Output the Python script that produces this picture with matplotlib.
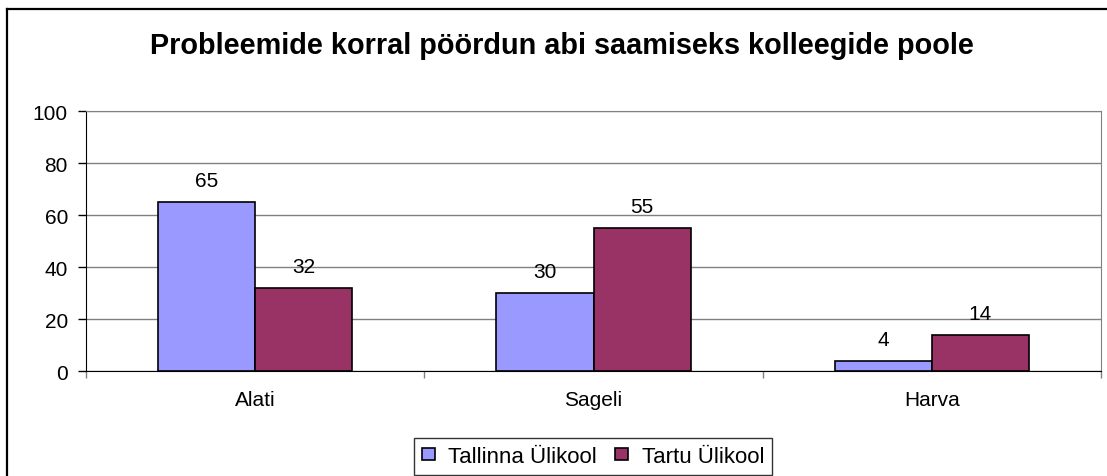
import numpy as np
import matplotlib.pyplot as plt
from matplotlib.lines import Line2D

# data
categories = ["Alati", "Sageli", "Harva"]
tallinn = [65, 30, 4]
tartu = [32, 55, 14]
series_names = ["Tallinna Ülikool", "Tartu Ülikool"]
yticks = [0, 20, 40, 60, 80, 100]

plt.rcParams["font.family"] = ["Liberation Sans", "DejaVu Sans"]

fig = plt.figure(figsize=(11.07, 4.77), dpi=100)
ax = fig.add_axes([86 / 1107, 1 - 372 / 477, 1015 / 1107, 260 / 477])

x = np.arange(len(categories))
w = 0.287
b1 = ax.bar(x - w / 2, tallinn, w, color="#9999FF", edgecolor="black", linewidth=1.2,
            label=series_names[0], zorder=3)
b2 = ax.bar(x + w / 2, tartu, w, color="#993366", edgecolor="black", linewidth=1.2,
            label=series_names[1], zorder=3)

# value labels above the bars
for bars, vals in ((b1, tallinn), (b2, tartu)):
    for r, v in zip(bars, vals):
        ax.annotate(str(v), (r.get_x() + r.get_width() / 2, v), xytext=(0, 11.5),
                    textcoords="offset points", ha="center", va="baseline", fontsize=15)

ax.set_xlim(-0.5, len(categories) - 0.5)
ax.set_ylim(0, 100)
ax.set_yticks(yticks)
ax.tick_params(axis="y", labelsize=15, length=6, width=1, pad=7)
ax.yaxis.grid(True, color="#808080", linewidth=1)
ax.set_axisbelow(True)

ax.set_xticks(x)
ax.set_xticklabels(categories)
ax.tick_params(axis="x", which="major", length=0, labelsize=15, pad=14)
ax.set_xticks(np.arange(len(categories) + 1) - 0.5, minor=True)
ax.tick_params(axis="x", which="minor", length=5, width=1, color="#808080")

for side in ("top", "right"):
    ax.spines[side].set_color("#808080")
ax.spines["left"].set_color("black")
ax.spines["bottom"].set_color("black")

fig.text(562 / 1107, 1 - 54 / 477, "Probleemide korral pöördun abi saamiseks kolleegide poole",
         ha="center", va="baseline", fontsize=20.8, fontweight="bold")

leg = fig.legend(loc="upper center", bbox_to_anchor=(593 / 1107, 1 - 439 / 477), ncol=2,
                 fontsize=16, frameon=True, fancybox=False, handlelength=0.6,
                 handleheight=0.45, handletextpad=0.6, columnspacing=0.8,
                 borderpad=0.35, borderaxespad=0)
leg.get_frame().set_edgecolor("black")
leg.get_frame().set_linewidth(1)

# outer chart frame
fig.add_artist(Line2D([7 / 1107, 7 / 1107], [0, 1 - 10 / 477], transform=fig.transFigure,
                      color="black", linewidth=1.6))
fig.add_artist(Line2D([7 / 1107, 1], [1 - 10 / 477, 1 - 10 / 477], transform=fig.transFigure,
                      color="black", linewidth=1.6))

fig.savefig("out.png", dpi=100)
